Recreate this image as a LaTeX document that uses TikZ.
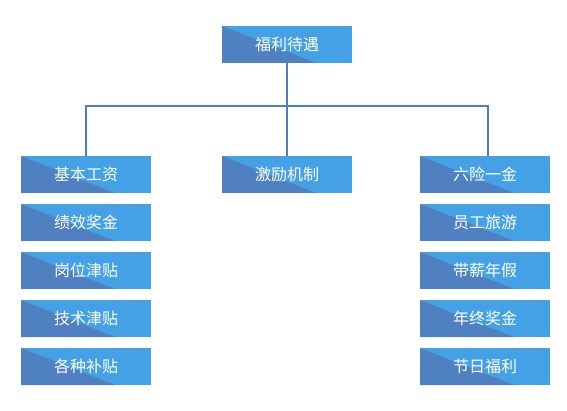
\documentclass[tikz,border=0pt]{standalone}
\usepackage{fontspec}
\newfontfamily\cjk{Noto Sans CJK SC}
\definecolor{boxdark}{HTML}{4F80C1}
\definecolor{boxlight}{HTML}{45A1E6}
\definecolor{linec}{HTML}{4F7FC0}
\begin{document}
\begin{tikzpicture}[x=1pt,y=-1pt,
  box/.style={minimum width=130pt, minimum height=37pt, inner sep=0pt, text=white,
    font=\cjk\fontsize{16}{16}\selectfont, fill=boxlight,
    path picture={\fill[boxdark] (path picture bounding box.north west) -- (path picture bounding box.south west) -- ([xshift=94pt]path picture bounding box.south west) -- cycle;}},
  conn/.style={draw=linec, line width=1.1pt}]
\useasboundingbox (0,0) rectangle (567,411);
\node[box] (top) at (287,44.5) {福利待遇};
\node[box] (l1) at (86,174.5) {基本工资};
\node[box] (l2) at (86,222.5) {绩效奖金};
\node[box] (l3) at (86,270.5) {岗位津贴};
\node[box] (l4) at (86,318.5) {技术津贴};
\node[box] (l5) at (86,366.5) {各种补贴};
\node[box] (mid) at (287,174.5) {激励机制};
\node[box] (r1) at (485,174.5) {六险一金};
\node[box] (r2) at (485,222.5) {员工旅游};
\node[box] (r3) at (485,270.5) {带薪年假};
\node[box] (r4) at (485,318.5) {年终奖金};
\node[box] (r5) at (485,366.5) {节日福利};
\coordinate (hub) at (287,106);
\coordinate (rtop) at (488,156);
\draw[conn] (top.south) -- (mid.north);
\draw[conn] (l1.north) |- (hub) -| (rtop);
\end{tikzpicture}
\end{document}
